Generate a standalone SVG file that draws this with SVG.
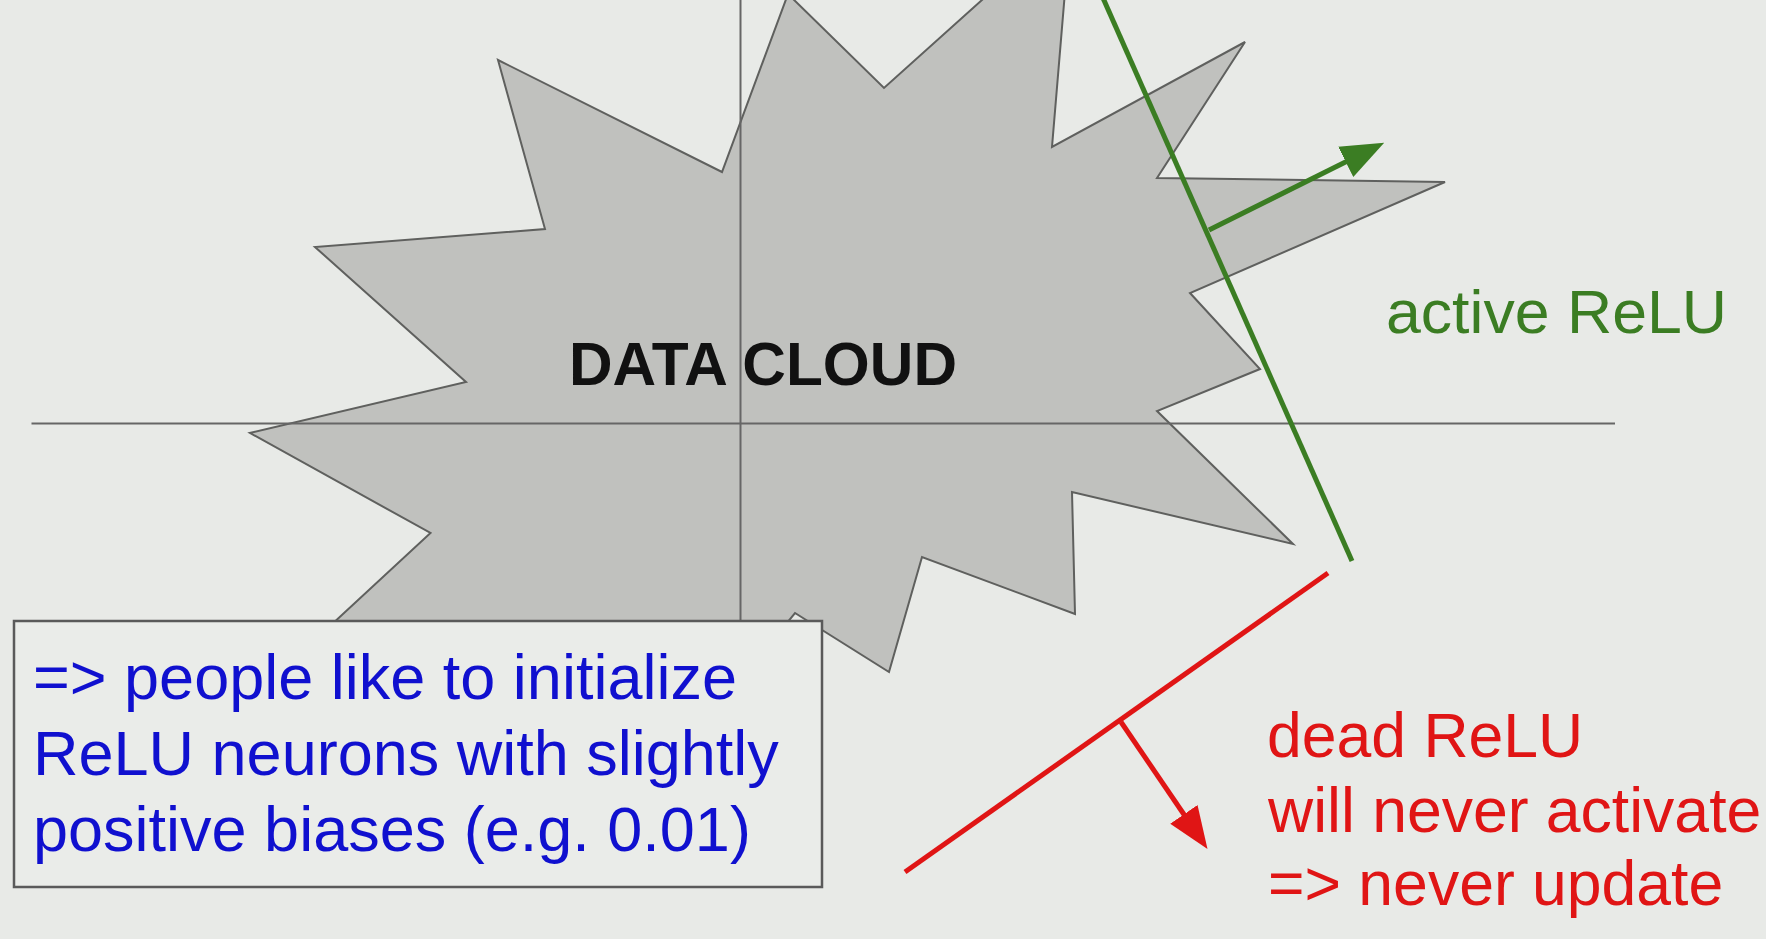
<svg xmlns="http://www.w3.org/2000/svg" width="1766" height="939" viewBox="0 0 1766 939">
<style>
.axis{stroke:#666;stroke-width:2;fill:none}
.txt{font-family:"Liberation Sans",Arial,sans-serif}
.blue{fill:#1010cf;font-size:63px}
.red{fill:#e01515;font-size:62.5px}
.green{fill:#3b7d23;font-size:62px}
.gline{stroke:#3b7d23;stroke-width:5;fill:none}
.rline{stroke:#e01515;stroke-width:5;fill:none}
</style>
<defs>
<marker id="headG" markerUnits="userSpaceOnUse" markerWidth="46" markerHeight="38" viewBox="0 -19 46 38" refX="2" refY="0" orient="auto">
<path d="M0,-17 L43,0 L0,17 Z" fill="#3b7d23"/>
</marker>
<marker id="headR" markerUnits="userSpaceOnUse" markerWidth="46" markerHeight="38" viewBox="0 -19 46 38" refX="2" refY="0" orient="auto">
<path d="M0,-16.5 L42,0 L0,16.5 Z" fill="#e01515"/>
</marker>
</defs>
<rect x="0" y="0" width="1766" height="939" fill="#e8eae7"/>
<g id="data-cloud">
<polygon points="498,60 722,172 788,-6 884,88 1071,-80 1052,147 1245,42 1157,178 1445,182 1190,293 1260,369 1157,411 1293,544 1072,492 1075,614 922,557 889,672 795,613 650,790 470,700 250,700 430.5,533 250,433 466,382 315,247 545,229" fill="#c0c1be" stroke="#5f605e" stroke-width="2" stroke-linejoin="miter"/>
</g>
<g id="axes">
<line class="axis" x1="31.5" y1="423.5" x2="1615" y2="423.5"/>
<line class="axis" x1="740.5" y1="0" x2="740.5" y2="621"/>
</g>
<g id="data-cloud-label">
<text class="txt" x="569" y="385" font-size="62" font-weight="bold" fill="#111" textLength="388" lengthAdjust="spacingAndGlyphs">DATA CLOUD</text>
</g>
<g id="connectors">
<line class="gline" x1="1103" y1="-2" x2="1352" y2="561"/>
<line class="gline" x1="1209" y1="230" x2="1347.5" y2="161" marker-end="url(#headG)"/>
<line class="rline" x1="905" y1="872" x2="1328" y2="573"/>
<line class="rline" x1="1121" y1="722" x2="1185" y2="816" marker-end="url(#headR)"/>
</g>
<g id="active-relu-label">
<text class="txt green" x="1386" y="333" textLength="341" lengthAdjust="spacingAndGlyphs">active ReLU</text>
</g>
<g id="dead-relu-label">
<text class="txt red" x="1267" y="757">dead ReLU</text>
<text class="txt red" x="1268" y="832">will never activate</text>
<text class="txt red" x="1268" y="905">=&gt; never update</text>
</g>
<g id="note-box">
<rect x="14" y="621" width="808" height="266" fill="#eaece9" stroke="#5a5a5a" stroke-width="2.5"/>
<text class="txt blue" x="33" y="699">=&gt; people like to initialize</text>
<text class="txt blue" x="33" y="775">ReLU neurons with slightly</text>
<text class="txt blue" x="33" y="851">positive biases (e.g. 0.01)</text>
</g>
</svg>
